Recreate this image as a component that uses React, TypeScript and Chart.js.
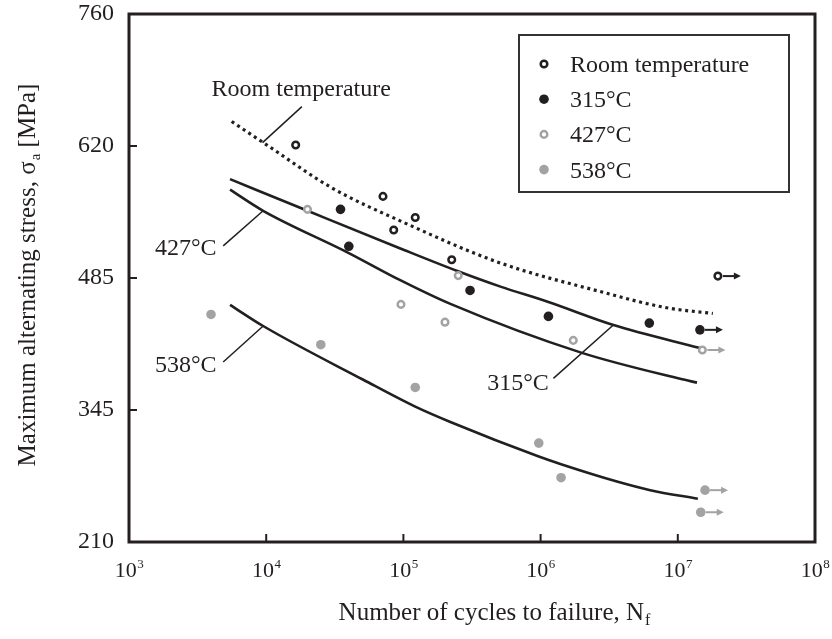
import React, { useEffect, useRef } from "react";
import { Chart, registerables } from "chart.js";

Chart.register(...registerables);

const FONT = '"Liberation Serif", "Times New Roman", serif';
const INK = "#231f20";
const GRAY = "#a3a3a3";

// ---- axes ----
const xTickExponents = [3, 4, 5, 6, 7, 8];
const yTickValues = [210, 347.5, 485, 622.5, 760];
const yTickLabels = ["210", "345", "485", "620", "760"];

const xTitle = "Number of cycles to failure, N";
const xTitleSub = "f";
const yTitle = "Maximum alternating stress, σ";
const yTitleSub = "a";
const yTitleTail = " [MPa]";

// ---- series (test points) ----
const seriesNames = ["Room temperature", "315°C", "427°C", "538°C"];

const roomN = [1.64e4, 7.1e4, 8.5e4, 1.22e5, 2.25e5, 1.96e7];
const roomS = [623.5, 570, 535, 548, 504, 487];
const roomRunout = [false, false, false, false, false, true];

const t315N = [3.48e4, 4.0e4, 3.06e5, 1.14e6, 6.2e6, 1.45e7];
const t315S = [556.5, 518, 472, 445, 438, 431];
const t315Runout = [false, false, false, false, false, true];

const t427N = [2.0e4, 9.6e4, 2.01e5, 2.51e5, 1.73e6, 1.51e7];
const t427S = [556.5, 457.5, 439, 487.5, 420, 410];
const t427Runout = [false, false, false, false, false, true];

const t538N = [3.96e3, 2.5e4, 1.22e5, 9.7e5, 1.41e6, 1.58e7, 1.47e7];
const t538S = [447, 415.5, 371, 313, 277, 264, 241];
const t538Runout = [false, false, false, false, false, true, true];

// ---- fitted curves ----
const roomCurveN = [5.6e3, 1e4, 3e4, 1e5, 5e5, 2.7e6, 8.3e6, 1.8e7];
const roomCurveS = [648, 624, 579, 543, 501, 471, 454, 448];

const c315N = [5.45e3, 2e4, 9.4e4, 2.5e5, 5.1e5, 1.14e6, 3.4e6, 1.45e7];
const c315S = [588, 555, 516, 492, 476, 460, 436, 412];

const c427N = [5.45e3, 9.5e3, 4e4, 9.4e4, 2.2e5, 2e6, 1.04e7, 1.38e7];
const c427S = [577, 555, 511, 483, 458, 407, 380, 376];

const c538N = [5.45e3, 9.5e3, 5.1e4, 1.22e5, 2.2e5, 9.7e5, 1.41e6, 3.6e6, 6.3e6, 1.4e7];
const c538S = [457, 435, 379, 351, 335, 299, 291, 273, 264, 255];

// ---- curve labels (anchored in data coordinates) ----
const curveLabels = ["Room temperature", "427°C", "538°C", "315°C"];
const labelN = [1.8e4, 4.35e3, 4.35e3, 4.08e5];
const labelS = [674.5, 509, 387.5, 368.5];
const labelAlign = ["center", "right", "right", "left"];
const leaderFromN = [1.82e4, 4.86e3, 4.86e3, 1.24e6];
const leaderFromS = [663.5, 518.5, 397.5, 380.5];
const leaderToN = [9.4e3, 9.5e3, 9.5e3, 3.39e6];
const leaderToS = [626, 555, 435, 436];

const zip = (xs: number[], ys: number[]) => xs.map((x, i) => ({ x, y: ys[i] }));

type Style = { open: boolean; color: string };
const styles: Style[] = [
  { open: true, color: INK },
  { open: false, color: INK },
  { open: true, color: GRAY },
  { open: false, color: GRAY },
];
const runouts = [roomRunout, t315Runout, t427Runout, t538Runout];

function drawMarker(ctx: CanvasRenderingContext2D, x: number, y: number, s: Style) {
  ctx.beginPath();
  if (s.open) {
    ctx.arc(x, y, 3.3, 0, Math.PI * 2);
    ctx.fillStyle = "#fff";
    ctx.fill();
    ctx.lineWidth = 2.5;
    ctx.strokeStyle = s.color;
    ctx.stroke();
  } else {
    ctx.arc(x, y, 4.8, 0, Math.PI * 2);
    ctx.fillStyle = s.color;
    ctx.fill();
  }
}

const overlay = {
  id: "overlay",
  afterDatasetsDraw(chart: any) {
    const ctx: CanvasRenderingContext2D = chart.ctx;
    ctx.save();
    for (let i = 0; i < 4; i++) {
      const meta = chart.getDatasetMeta(i);
      const st = styles[i];
      runouts[i].forEach((r, j) => {
        if (!r) return;
        const el = meta.data[j];
        const x0 = el.x + 5;
        const x1 = el.x + 17;
        const tip = el.x + 23;
        ctx.strokeStyle = st.color;
        ctx.fillStyle = st.color;
        ctx.lineWidth = 2;
        ctx.beginPath();
        ctx.moveTo(x0, el.y);
        ctx.lineTo(x1, el.y);
        ctx.stroke();
        ctx.beginPath();
        ctx.moveTo(tip, el.y);
        ctx.lineTo(x1 - 1, el.y - 3.5);
        ctx.lineTo(x1 - 1, el.y + 3.5);
        ctx.closePath();
        ctx.fill();
      });
    }
    ctx.restore();
  },
  afterDraw(chart: any) {
    const ctx: CanvasRenderingContext2D = chart.ctx;
    const a = chart.chartArea;
    const xs = chart.scales.x;
    const ys = chart.scales.y;
    ctx.save();

    // frame
    ctx.strokeStyle = INK;
    ctx.lineWidth = 3;
    ctx.strokeRect(a.left, a.top, a.right - a.left, a.bottom - a.top);

    // inner tick marks
    ctx.lineWidth = 2;
    xTickExponents.forEach((e) => {
      const px = xs.getPixelForValue(Math.pow(10, e));
      ctx.beginPath();
      ctx.moveTo(px, a.bottom);
      ctx.lineTo(px, a.bottom - 8);
      ctx.stroke();
    });
    yTickValues.forEach((v) => {
      const py = ys.getPixelForValue(v);
      ctx.beginPath();
      ctx.moveTo(a.left, py);
      ctx.lineTo(a.left + 8, py);
      ctx.stroke();
    });

    // x tick labels 10^n
    ctx.fillStyle = INK;
    ctx.textBaseline = "alphabetic";
    ctx.textAlign = "left";
    xTickExponents.forEach((e) => {
      const px = xs.getPixelForValue(Math.pow(10, e));
      ctx.font = `22px ${FONT}`;
      const wb = ctx.measureText("10").width;
      ctx.font = `13px ${FONT}`;
      const ws = ctx.measureText(String(e)).width;
      const start = px - (wb + ws) / 2;
      ctx.font = `22px ${FONT}`;
      ctx.fillText("10", start, a.bottom + 35);
      ctx.font = `13px ${FONT}`;
      ctx.fillText(String(e), start + wb + 0.5, a.bottom + 26);
    });

    // x title
    ctx.font = `25px ${FONT}`;
    const wt = ctx.measureText(xTitle).width;
    ctx.font = `16px ${FONT}`;
    const wsub = ctx.measureText(xTitleSub).width;
    const cx = (a.left + a.right) / 2 + 22;
    const sx = cx - (wt + wsub) / 2;
    ctx.font = `25px ${FONT}`;
    ctx.fillText(xTitle, sx, a.bottom + 78);
    ctx.font = `16px ${FONT}`;
    ctx.fillText(xTitleSub, sx + wt + 1, a.bottom + 83);

    // y title (rotated)
    ctx.save();
    ctx.translate(35, (a.top + a.bottom) / 2 - 3);
    ctx.rotate(-Math.PI / 2);
    ctx.font = `25px ${FONT}`;
    const w1 = ctx.measureText(yTitle).width;
    const w3 = ctx.measureText(yTitleTail).width;
    ctx.font = `15px ${FONT}`;
    const w2 = ctx.measureText(yTitleSub).width;
    const total = w1 + w2 + w3 + 1;
    let tx = -total / 2;
    ctx.font = `25px ${FONT}`;
    ctx.fillText(yTitle, tx, 0);
    tx += w1 + 1;
    ctx.font = `15px ${FONT}`;
    ctx.fillText(yTitleSub, tx, 5);
    tx += w2;
    ctx.font = `25px ${FONT}`;
    ctx.fillText(yTitleTail, tx, 0);
    ctx.restore();

    // curve labels and leaders
    ctx.font = `24px ${FONT}`;
    ctx.fillStyle = INK;
    ctx.strokeStyle = INK;
    ctx.lineWidth = 1.5;
    curveLabels.forEach((t, i) => {
      ctx.textAlign = labelAlign[i] as CanvasTextAlign;
      ctx.fillText(t, xs.getPixelForValue(labelN[i]), ys.getPixelForValue(labelS[i]));
      ctx.beginPath();
      ctx.moveTo(xs.getPixelForValue(leaderFromN[i]), ys.getPixelForValue(leaderFromS[i]));
      ctx.lineTo(xs.getPixelForValue(leaderToN[i]), ys.getPixelForValue(leaderToS[i]));
      ctx.stroke();
    });

    // legend
    const lx = a.left + 390;
    const ly = a.top + 21;
    ctx.lineWidth = 2;
    ctx.strokeStyle = "#333";
    ctx.strokeRect(lx, ly, 270, 157);
    ctx.textAlign = "left";
    ctx.font = `24px ${FONT}`;
    seriesNames.forEach((name, i) => {
      const base = ly + 37 + i * 35.2;
      drawMarker(ctx, lx + 25, base - 8, styles[i]);
      ctx.fillStyle = INK;
      ctx.fillText(name, lx + 51, base);
    });

    ctx.restore();
  },
};

function pointDataset(label: string, xsArr: number[], ysArr: number[], st: Style) {
  return {
    type: "scatter" as const,
    label,
    data: zip(xsArr, ysArr),
    showLine: false,
    order: 0,
    pointRadius: st.open ? 3.3 : 4.8,
    pointHoverRadius: st.open ? 3.3 : 4.8,
    pointBorderWidth: st.open ? 2.5 : 0,
    pointBackgroundColor: st.open ? "#fff" : st.color,
    pointBorderColor: st.color,
    borderColor: st.color,
    backgroundColor: st.open ? "#fff" : st.color,
  };
}

function curveDataset(label: string, xsArr: number[], ysArr: number[], dotted: boolean) {
  return {
    type: "line" as const,
    label,
    data: zip(xsArr, ysArr),
    order: 1,
    borderColor: INK,
    borderWidth: dotted ? 3.2 : 2.6,
    borderDash: dotted ? [3, 3.7] : [],
    borderCapStyle: "butt" as const,
    pointRadius: 0,
    fill: false,
    cubicInterpolationMode: "monotone" as const,
  };
}

export default function App() {
  const ref = useRef<HTMLCanvasElement | null>(null);
  useEffect(() => {
    if (!ref.current) return;
    const chart = new Chart(ref.current, {
      type: "scatter",
      data: {
        datasets: [
          pointDataset(seriesNames[0], roomN, roomS, styles[0]),
          pointDataset(seriesNames[1], t315N, t315S, styles[1]),
          pointDataset(seriesNames[2], t427N, t427S, styles[2]),
          pointDataset(seriesNames[3], t538N, t538S, styles[3]),
          curveDataset("Room temperature fit", roomCurveN, roomCurveS, true),
          curveDataset("315°C fit", c315N, c315S, false),
          curveDataset("427°C fit", c427N, c427S, false),
          curveDataset("538°C fit", c538N, c538S, false),
        ] as any,
      },
      options: {
        animation: false,
        responsive: true,
        maintainAspectRatio: false,
        layout: { padding: { left: 0, right: 17, top: 14, bottom: 0 } },
        plugins: {
          legend: { display: false },
          tooltip: { enabled: false },
          title: { display: false },
        },
        scales: {
          x: {
            type: "logarithmic",
            min: 1e3,
            max: 1e8,
            grid: { display: false, drawTicks: false },
            border: { display: false },
            ticks: { display: false },
            afterFit: (s: any) => {
              s.height = 97;
              s.paddingLeft = 0;
              s.paddingRight = 0;
            },
          },
          y: {
            type: "linear",
            min: 210,
            max: 760,
            grid: { display: false, drawTicks: false },
            border: { display: false },
            afterBuildTicks: (s: any) => {
              s.ticks = yTickValues.map((v) => ({ value: v }));
            },
            ticks: {
              padding: 15,
              color: INK,
              font: { family: FONT, size: 24 },
              callback: (_v: any, i: number) => yTickLabels[i],
            },
            afterFit: (s: any) => {
              s.width = 129;
              s.paddingTop = 0;
              s.paddingBottom = 0;
            },
          },
        },
      },
      plugins: [overlay],
    });
    return () => chart.destroy();
  }, []);
  return (
    <div style={{ position: "absolute", left: 0, top: 0, width: 832, height: 639, background: "#fff" }}>
      <canvas ref={ref} />
    </div>
  );
}
